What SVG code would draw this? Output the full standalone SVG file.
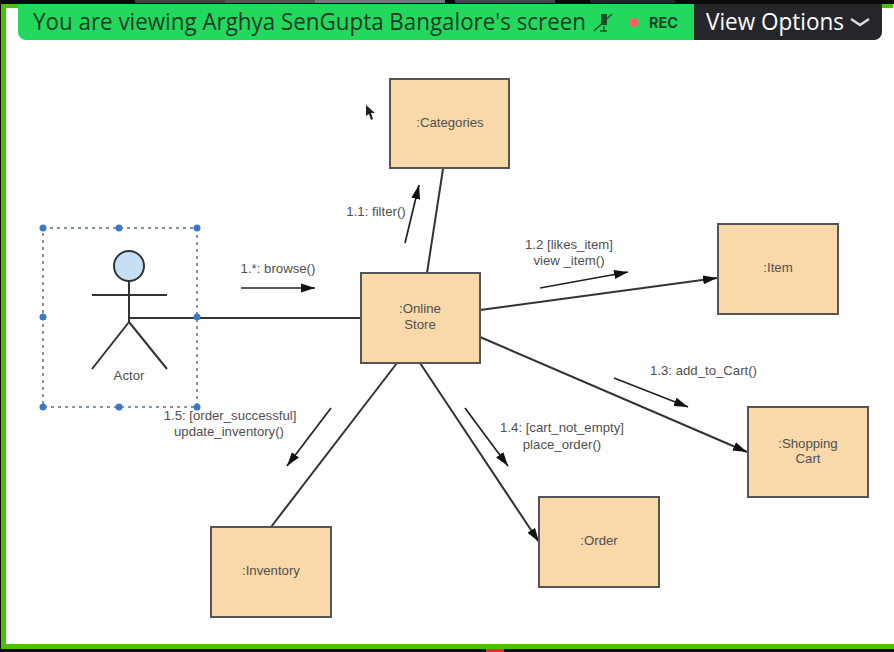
<svg xmlns="http://www.w3.org/2000/svg" width="894" height="652" viewBox="0 0 894 652">
<defs>
<marker id="a" markerUnits="userSpaceOnUse" markerWidth="16" markerHeight="12" refX="14" refY="5" orient="auto"><path d="M0 0.500L14 5L0 9.500Z" fill="#111"/></marker>
</defs>
<style>
.n{fill:#f9d8a9;stroke:#555;stroke-width:2}
.t{font-family:"Liberation Sans",Arial,sans-serif;font-size:13.2px;fill:#505050;text-anchor:middle}
.c{stroke:#333;stroke-width:2;fill:none}
.m{stroke:#222;stroke-width:1.7;fill:none;marker-end:url(#a)}
.h{fill:#3b78c8}
</style>
<rect width="894" height="652" fill="#fff"/>
<g id="frame">
<rect x="0" y="0" width="894" height="4" fill="#0a0a0a"/>
<rect x="135" y="0" width="90" height="3" fill="#444"/><rect x="225" y="0" width="90" height="3" fill="#555"/><rect x="315" y="0" width="130" height="3" fill="#778"/><rect x="455" y="0" width="100" height="3" fill="#445"/><rect x="590" y="0" width="85" height="3" fill="#223"/>
<rect x="1" y="4" width="892" height="4" fill="#4bc200"/>
<rect x="1" y="4" width="5" height="642" fill="#4bc200"/>
<rect x="0" y="4" width="1" height="648" fill="#0a0a0a"/>
<rect x="1" y="644" width="893" height="5" fill="#4bc200"/>
<rect x="0" y="649" width="894" height="3" fill="#0a0a0a"/>
<rect x="486" y="649" width="18" height="3" fill="#d8322a"/>
<path d="M18 4H698V40H26a8 8 0 0 1-8-8Z" fill="#22d95e"/>
<path d="M694 4H882V32a8 8 0 0 1-8 8H694Z" fill="#25262a"/>
<text x="33" y="30" font-family="'Open Sans','Liberation Sans',sans-serif" font-size="24" fill="#1b3a28" textLength="553" lengthAdjust="spacingAndGlyphs">You are viewing Arghya SenGupta Bangalore's screen</text>
<path d="M601 14H607V25H601Z" fill="#1b4a2c"/>
<path d="M612 14L594 31M600 31H607M604 26V31" stroke="#1b4a2c" stroke-width="1.300" fill="none"/>
<circle cx="634" cy="22.500" r="4.500" fill="#ff6166"/>
<text x="649" y="28" font-family="Inter,'Liberation Sans',sans-serif" font-size="14" font-weight="700" fill="#1b3f2c" textLength="29" lengthAdjust="spacingAndGlyphs">REC</text>
<text x="706" y="30" font-family="'Open Sans','Liberation Sans',sans-serif" font-size="24" fill="#fff" textLength="138" lengthAdjust="spacingAndGlyphs">View Options</text>
<path d="M851 19L860 25L869 19" stroke="#ddd" stroke-width="2.500" fill="none"/>
</g>
<g id="connectors">
<path class="c" d="M130 318H361"/>
<path class="c" d="M427 273L443 169"/>
<path class="c" d="M480 310L717 278" marker-end="url(#a)"/>
<path class="c" d="M480 337L747 452" marker-end="url(#a)"/>
<path class="c" d="M420 363L539 542" marker-end="url(#a)"/>
<path class="c" d="M397 363L271 527"/>
</g>
<g id="messages">
<path class="m" d="M241 288H315"/>
<path class="m" d="M405 243L419 185"/>
<path class="m" d="M540 288L628 272"/>
<path class="m" d="M614 378L688 407"/>
<path class="m" d="M465 408L508 466"/>
<path class="m" d="M331 408L287 466"/>
<text class="t" x="278" y="273">1.*: browse()</text>
<text class="t" x="376" y="216">1.1: filter()</text>
<text class="t" x="569" y="249">1.2 [likes_item]</text>
<text class="t" x="569" y="265">view _item()</text>
<text class="t" x="703.500" y="375">1.3: add_to_Cart()</text>
<text class="t" x="562" y="432">1.4: [cart_not_empty]</text>
<text class="t" x="562" y="449">place_order()</text>
<text class="t" x="230" y="420">1.5: [order_successful]</text>
<text class="t" x="229" y="436">update_inventory()</text>
</g>
<g id="actor">
<rect x="43" y="228" width="154" height="179" fill="none" stroke="#5c7088" stroke-width="1.500" stroke-dasharray="3 4"/>
<circle cx="129" cy="266" r="15" fill="#c5e0f4" stroke="#333" stroke-width="2"/>
<path class="c" d="M129 281V322M92 295H167M129 322L92 369M129 322L167 369"/>
<text class="t" x="129" y="380">Actor</text>
<g class="h"><circle cx="43" cy="228" r="3.500"/><circle cx="119" cy="228" r="3.500"/><circle cx="197" cy="228" r="3.500"/><circle cx="43" cy="317" r="3.500"/><circle cx="197" cy="317" r="3.500"/><circle cx="43" cy="407" r="3.500"/><circle cx="119" cy="407" r="3.500"/><circle cx="197" cy="407" r="3.500"/></g>
</g>
<g id="categories"><rect class="n" x="390" y="79" width="119" height="89"/><text class="t" x="450" y="127">:Categories</text></g>
<g id="online-store"><rect class="n" x="361" y="273" width="119" height="90"/><text class="t" x="420" y="313">:Online</text><text class="t" x="420" y="329">Store</text></g>
<g id="item"><rect class="n" x="718" y="224" width="120" height="90"/><text class="t" x="778" y="272">:Item</text></g>
<g id="shopping-cart"><rect class="n" x="748" y="407" width="120" height="90"/><text class="t" x="808" y="448">:Shopping</text><text class="t" x="808" y="463">Cart</text></g>
<g id="order"><rect class="n" x="539" y="497" width="120" height="90"/><text class="t" x="599" y="545">:Order</text></g>
<g id="inventory"><rect class="n" x="211" y="527" width="120" height="90"/><text class="t" x="271" y="575">:Inventory</text></g>
<path id="cursor" d="M366 105V116L369 114L371 120L373 119L371 113L375 113Z" fill="#222"/>
</svg>
